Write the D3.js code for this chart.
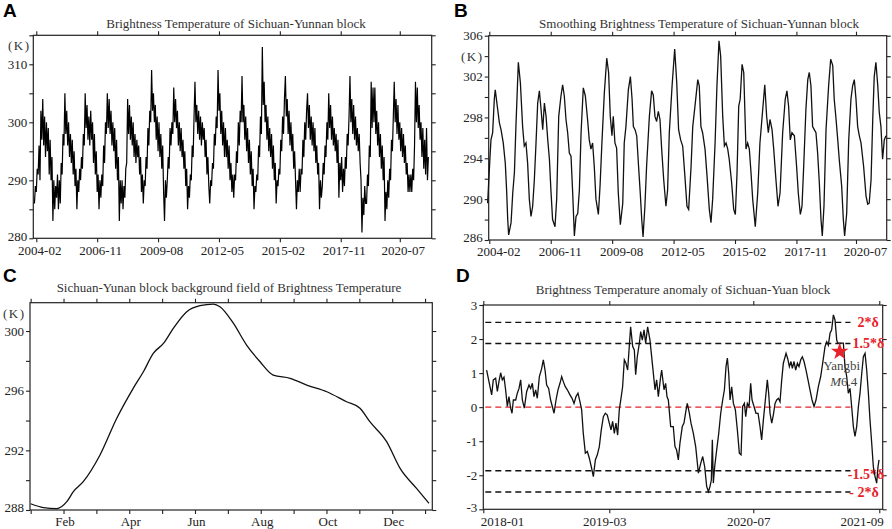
<!DOCTYPE html>
<html>
<head>
<meta charset="utf-8">
<title>Brightness Temperature of Sichuan-Yunnan block</title>
<script src="https://d3js.org/d3.v7.min.js"></script>
<style>
  body { margin: 0; background: #fff; }
  text { font-family: "Liberation Serif", "Times New Roman", serif; }
  .panel-label { font-family: "Liberation Sans", Arial, sans-serif; font-weight: bold; font-size: 19px; fill: #000; }
  .title { font-size: 13px; fill: #333; }
</style>
</head>
<body>
<div id="chart"></div>
<script>
// ---- tick labels ----
var dateTicks = ["2004-02", "2006-11", "2009-08", "2012-05", "2015-02", "2017-11", "2020-07"];
var monthNames = ["Jan", "Feb", "Mar", "Apr", "May", "Jun", "Jul", "Aug", "Sep", "Oct", "Nov", "Dec", "Jan"];
var anomalyTicks = ["2018-01", "2019-03", "2020-07", "2021-09"];
var rawYTicks = [280, 285, 290, 295, 300, 305, 310, 315];
var smoothYTicks = [286, 288, 290, 292, 294, 296, 298, 300, 302, 304, 306];
var bgYTicks = [288, 290, 292, 294, 296, 298, 300];
var anomYTicks = [-3, -2, -1, 0, 1, 2, 3];

// ---- A: daily brightness temperature (K), read at half-month steps from 2004-01 ----
var rawStep = 0.5;
var rawTemp = [
  286,289,288,292,291,296,290,302,297,304,296,301,294,300,295,299,291,297,290,294,283,290,285,289,
  287,291,285,290,286,293,291,298,296,305,298,302,296,300,294,298,293,297,291,295,289,292,285,290,
  288,292,290,294,292,298,296,305,299,303,297,301,296,302,297,300,293,298,291,295,288,291,285,290,
  287,291,289,296,293,300,298,305,299,304,298,302,296,300,295,299,292,297,290,294,283,290,286,290,
  285,289,287,292,293,304,298,303,297,301,296,300,294,298,293,297,294,296,291,294,288,291,286,290,
  289,294,292,299,296,302,300,309,302,305,300,303,297,301,295,300,294,298,292,296,288,283,290,287,
  290,294,292,299,296,300,298,306,300,304,299,302,296,300,295,299,294,297,292,295,289,292,285,289,
  287,291,290,296,294,301,307,300,303,298,302,297,301,296,300,297,299,294,297,291,294,289,286,290,
  289,293,292,298,296,301,299,309,302,305,298,302,296,300,294,299,294,297,292,296,290,293,288,291,
  287,291,290,295,293,300,296,302,300,308,300,303,297,301,295,299,293,297,291,295,289,292,285,289,
  288,291,290,296,294,301,298,313,303,307,300,303,297,301,295,299,294,298,292,296,290,293,286,290,
  289,292,291,297,295,301,298,304,308,301,304,298,302,296,300,295,298,292,295,290,285,290,288,292,
  288,292,291,297,294,300,297,302,305,299,303,297,301,296,300,295,299,293,296,291,293,285,290,287,
  289,293,291,296,294,300,297,305,299,303,297,301,296,299,295,298,293,297,287,293,290,294,288,292,
  289,294,292,298,296,301,308,300,304,298,303,297,301,296,299,295,298,293,290,281,287,284,289,286,
  286,291,289,296,294,307,299,306,300,306,298,302,296,300,294,298,292,296,290,294,283,288,285,290,
  287,292,290,297,295,301,307,300,304,298,303,297,300,295,299,294,298,293,296,291,293,288,291,288,
  291,288,292,290,296,307,300,306,299,303,297,300,294,299,292,297,291,299,290,294
];

// ---- B: smoothed brightness temperature (months since 2004-01, K) ----
var smoothMonth = [
  0.1,1.4,1.9,2.8,3.7,4.2,5.5,6.4,7.3,8.5,9.6,10.3,10.9,11.4,12.7,13.6,14.5,15.3,16.6,17.7,
  18.9,19.8,20.7,21.6,22.5,23.4,24.3,25.2,26.1,27.0,27.9,28.8,29.7,30.6,31.5,32.4,33.3,34.1,35.0,36.3,
  37.2,38.3,39.5,40.4,41.3,42.2,43.1,44.0,44.9,45.8,46.7,47.6,48.5,49.4,50.3,51.5,52.6,53.8,54.7,55.6,
  56.5,57.4,58.3,59.6,60.5,61.5,62.8,64.1,65.1,66.0,66.9,67.6,68.5,69.4,70.3,71.4,72.7,73.5,74.4,75.7,
  76.8,77.7,78.4,79.3,80.2,81.2,82.1,82.9,83.6,84.6,85.5,87.0,88.2,89.1,90.0,90.9,91.8,92.7,93.6,94.7,
  95.9,96.8,97.7,99.2,100.6,101.7,102.7,103.8,104.9,106.1,107.2,108.1,109.4,110.3,111.5,113.0,113.8,114.7,115.6,116.9,
  118.0,119.2,120.1,121.0,122.3,123.3,124.4,125.3,126.4,127.3,128.2,129.1,129.9,131.2,132.3,133.2,134.1,135.0,135.8,136.8,
  137.7,138.9,139.8,140.7,141.6,142.5,143.9,145.2,146.4,147.9,149.0,150.0,150.9,151.8,152.9,153.8,155.0,156.1,157.2,158.6,
  160.0,160.9,161.8,162.7,163.6,164.9,166.1,167.0,168.1,169.0,169.9,171.1,172.1,172.9,173.8,174.7,175.6,176.5,177.4,178.3,
  179.2,179.9,180.8,181.9,183.3,184.4,185.5,186.3,187.3,188.2,189.0,190.3,191.2,191.9,193.0,194.1,195.3,196.2,197.1,198.0,
  198.9,199.8,200.7,202.1,203.4,204.3,205.1,206.1,207.0,207.8,208.7,209.7,210.5,211.4,212.3,213.2,214.1
];
var smoothTemp = [
  289.6,294.2,295.8,296.5,299.8,300.7,298.8,297.5,296.8,295.5,293.5,290.9,288.0,286.5,287.7,290.6,292.6,297.1,303.4,301.4,
  297.1,295.2,295.5,293.5,290.0,288.3,289.3,291.9,295.5,299.4,300.6,298.8,296.8,299.4,298.1,295.8,293.9,290.9,288.0,287.3,
  290.0,298.1,300.1,301.2,300.1,297.8,296.5,294.5,294.2,290.6,286.4,288.3,288.6,290.9,296.5,300.9,300.1,297.8,295.8,294.9,
  295.5,293.2,290.0,288.5,291.3,295.5,300.4,303.8,302.4,298.1,296.2,298.1,295.5,295.0,290.6,287.5,289.6,295.5,297.1,300.7,
  302.0,299.8,297.1,296.8,296.2,293.2,290.6,288.0,286.3,289.3,293.2,298.1,300.6,300.2,298.1,297.6,298.6,297.8,294.9,291.9,
  289.3,290.9,296.5,301.1,304.7,301.4,296.8,295.8,295.2,292.2,289.3,289.0,293.2,297.1,299.1,301.7,301.1,297.1,296.5,294.9,
  292.2,289.0,287.7,290.0,295.5,301.1,305.5,304.0,298.1,295.2,295.5,294.9,293.9,291.6,289.0,288.5,292.6,299.1,299.8,303.2,
  302.4,294.9,295.5,294.9,292.6,290.0,287.3,290.6,295.5,298.8,301.2,298.1,296.5,297.8,296.8,294.9,291.9,289.3,290.6,296.5,
  299.8,300.6,299.1,295.8,296.5,296.2,293.2,290.6,288.5,289.3,293.2,298.8,301.7,302.4,301.1,297.1,296.8,296.5,294.5,291.6,
  288.0,286.4,289.3,296.8,301.1,303.7,303.1,299.8,297.8,295.8,293.9,291.3,288.0,286.4,288.6,295.8,299.8,301.1,301.7,299.8,
  297.1,296.2,295.5,293.2,290.3,289.5,289.6,291.9,297.8,302.0,303.4,301.1,298.5,297.1,293.9,295.8,296.2
];

// ---- C: background field (months since Jan 1, K) ----
var bgMonth = [0, 0.39, 0.79, 1.10, 1.30, 1.60, 2.11, 2.62, 3.12, 3.43, 3.73, 4.04, 4.34, 4.75, 5.15, 5.56,
  5.76, 6.17, 6.57, 6.98, 7.38, 7.89, 8.40, 9.01, 9.61, 10.02, 10.32, 10.83, 11.24, 11.74, 12.12];
var bgTemp = [288.42, 288.16, 288.09, 288.56, 289.23, 289.9, 291.69, 294.15, 296.16, 297.27, 298.5, 299.17, 300.18, 301.3, 301.7, 301.81,
  301.63, 300.51, 299.06, 297.94, 297.05, 296.83, 296.38, 295.93, 295.26, 294.82, 293.92, 292.58, 290.79, 289.45, 288.45];

// ---- D: anomaly (months since 2018-01) ----
var anomMonth = [
  0.37,0.67,0.93,1.11,1.37,1.56,1.74,1.93,2.11,2.30,2.48,2.67,2.85,3.04,3.19,3.34,3.60,3.78,3.97,4.15,
  4.34,4.56,4.82,5.08,5.26,5.45,5.63,5.82,6.00,6.23,6.49,6.67,6.86,7.04,7.26,7.48,7.67,7.86,8.08,8.30,
  8.52,8.71,8.89,9.11,9.34,9.63,9.86,10.08,10.30,10.52,10.74,10.93,11.11,11.34,11.56,11.78,12.00,12.23,12.45,12.67,
  12.89,13.11,13.34,13.56,13.78,14.00,14.19,14.37,14.56,14.74,14.93,15.11,15.30,15.48,15.67,15.85,16.04,16.37,16.60,16.78,
  16.93,17.11,17.34,17.49,17.67,17.86,18.04,18.26,18.52,18.82,19.08,19.26,19.45,19.71,19.82,20.08,20.26,20.41,20.56,20.82,
  21.11,21.30,21.48,21.67,21.85,22.11,22.30,22.53,22.67,22.90,23.08,23.34,23.60,23.90,24.16,24.38,24.60,24.82,25.01,25.19,
  25.34,25.45,25.56,25.71,25.93,26.16,26.38,26.60,26.79,26.97,27.12,27.27,27.42,27.60,27.79,28.01,28.23,28.45,28.64,28.82,
  29.01,29.16,29.34,29.53,29.71,29.86,30.08,30.30,30.53,30.75,30.93,31.12,31.34,31.56,31.71,31.86,32.05,32.23,32.42,32.60,
  32.79,32.97,33.16,33.34,33.64,33.82,34.01,34.19,34.34,34.53,34.71,34.90,35.08,35.27,35.45,35.64,35.86,36.08,36.30,36.53,
  36.75,36.97,37.23,37.49,37.71,37.97,38.16,38.34,38.53,38.71,38.90,39.08,39.27,39.38,39.56,39.82,40.01,40.19,40.38,40.56,
  40.75,40.93,41.12,41.30,41.49,41.68,41.86,42.05,42.23,42.42,42.60,42.79,42.97,43.16,43.34,43.53,43.71,43.86,43.97
];
var anomValue = [
  1.09,0.70,0.36,0.80,0.85,0.46,0.75,1.01,0.80,0.88,0.51,0.02,0.31,-0.03,-0.18,0.21,0.21,0.41,0.55,0.80,
  0.21,-0.03,0.46,0.65,0.55,0.70,0.31,0.51,0.26,0.90,1.14,1.39,1.09,0.65,0.55,0.21,0.02,-0.18,0.21,0.51,
  0.70,0.90,0.75,0.60,0.51,0.36,0.26,0.11,0.31,0.41,0.16,-0.08,-0.77,-1.35,-1.30,-1.50,-1.75,-2.04,-1.55,-1.40,
  -1.16,-0.67,-0.28,-0.18,-0.23,-0.47,-0.67,-0.42,-0.77,-0.47,-0.82,-0.08,0.26,0.60,1.39,1.29,1.09,2.36,1.78,1.68,
  0.95,1.48,1.88,2.22,1.97,2.27,1.88,2.36,1.97,1.19,0.51,0.80,0.31,0.90,1.09,0.51,0.70,0.31,0.21,-0.57,
  -0.57,-1.16,-1.26,-1.55,-1.06,-0.57,-0.47,-0.08,0.11,-0.18,-0.47,-0.77,-1.16,-1.94,-1.65,-1.45,-1.75,-2.33,-2.48,-2.33,
  -2.14,-0.96,-2.23,-1.75,-1.26,-0.77,-0.18,0.21,0.51,1.19,1.44,0.99,0.21,0.60,0.11,-0.08,-0.67,-1.35,-1.40,0.02,
  0.11,-0.28,0.11,0.02,0.70,0.21,0.02,-0.18,-0.18,-0.57,-0.96,-0.38,0.21,0.80,0.41,-0.18,-0.47,-0.23,0.11,0.21,
  0.26,0.16,0.80,1.29,1.58,1.43,1.19,1.34,1.14,1.34,1.09,1.29,1.19,1.39,1.48,1.34,1.09,0.80,0.51,0.21,
  0.02,0.21,0.60,0.90,1.29,1.78,1.92,1.82,2.17,2.27,2.71,2.56,1.97,1.88,1.88,1.88,1.88,1.19,0.90,0.41,
  0.55,0.02,-0.57,-0.86,-0.57,0.02,0.41,0.99,1.48,1.58,1.09,0.41,-0.38,-1.06,-1.75,-2.04,-2.23,-1.75,-1.55
];
var sigma = 1.245;
var sigmaFactors = [2, 1.5, 0, -1.5, -2];
var sigmaLabels = ["2*δ", "1.5*δ", "", "-1.5*δ", "- 2*δ"];
var quakeMonth = 39.6, quakeValue = 1.63;
var quakeName = "Yangbi", quakeMag = "6.4";

// month index of a "YYYY-MM" label counted from January of baseYear
function monthIndex(label, baseYear) {
  var p = label.split("-");
  return (+p[0] - baseYear) * 12 + (+p[1] - 1);
}

var svg = d3.select("#chart").append("svg")
  .attr("width", 892).attr("height", 529);

var RED = "#e8222a";

function styleAxis(g) {
  g.select(".domain").remove();
  g.attr("font-family", null).attr("font-size", null);
  g.selectAll(".tick line").attr("stroke", "#222").attr("stroke-width", 1.1);
  g.selectAll(".tick text").attr("fill", "#222").style("font-size", "13px");
}

// draws frame + four axes, returns scales and the axis groups
function panel(box, xDomain, yDomain, xTickVals, xFmt, yTickVals, yFmt, labelShift) {
  var x = d3.scaleLinear().domain(xDomain).range([box.x0, box.x1]);
  var y = d3.scaleLinear().domain(yDomain).range([box.y1, box.y0]);

  var bottom = svg.append("g").attr("transform", "translate(0," + box.y1 + ")")
    .call(d3.axisBottom(x).tickValues(xTickVals).tickSize(4).tickSizeOuter(0).tickPadding(3).tickFormat(xFmt))
    .call(styleAxis);
  bottom.selectAll(".tick text").attr("x", labelShift || 0);
  svg.append("g").attr("transform", "translate(0," + box.y0 + ")")
    .call(d3.axisTop(x).tickValues(xTickVals).tickSize(4).tickSizeOuter(0).tickFormat(""))
    .call(styleAxis);
  var left = svg.append("g").attr("transform", "translate(" + box.x0 + ",0)")
    .call(d3.axisLeft(y).tickValues(yTickVals).tickSize(4).tickSizeOuter(0).tickPadding(2).tickFormat(yFmt))
    .call(styleAxis);
  svg.append("g").attr("transform", "translate(" + box.x1 + ",0)")
    .call(d3.axisRight(y).tickValues(yTickVals).tickSize(4).tickSizeOuter(0).tickFormat(""))
    .call(styleAxis);

  // lift the lowest y label a touch so it clears the first date label
  left.selectAll(".tick text").filter(function(d) { return d === yDomain[0]; }).attr("dy", "0.15em");

  svg.append("rect")
    .attr("x", box.x0).attr("y", box.y0)
    .attr("width", box.x1 - box.x0).attr("height", box.y1 - box.y0)
    .attr("fill", "none").attr("stroke", "#222").attr("stroke-width", 1.2);
  return { x: x, y: y, bottom: bottom };
}

function addText(x, y, txt, cls, anchor) {
  return svg.append("text").attr("x", x).attr("y", y)
    .attr("class", cls || null)
    .attr("text-anchor", anchor || "start").text(txt);
}

// ================= A =================
var boxA = { x0: 33.3, x1: 431.7, y0: 35.3, y1: 238.3 };
var dateVals = dateTicks.map(function(d) { return monthIndex(d, 2004); });
var sA = panel(boxA, [-0.62, 215.3], [280, 315], dateVals, function(d, i) { return dateTicks[i]; },
  rawYTicks, function(d) { return d % 10 === 0 && d < 315 ? d : ""; }, 3);
svg.append("path")
  .datum(rawTemp)
  .attr("fill", "none").attr("stroke", "#000").attr("stroke-width", 1.2)
  .attr("d", d3.line().x(function(d, i) { return sA.x(i * rawStep); }).y(function(d) { return sA.y(d); }));
addText(3, 17, "A", "panel-label");
addText(236, 28, "Brightness Temperature of Sichuan-Yunnan block", "title", "middle");
addText(8, 50, "(K)").style("font-size", "13px").style("letter-spacing", "1.5px").attr("fill", "#333");

// ================= B =================
var boxB = { x0: 488.7, x1: 886.7, y0: 35.7, y1: 240 };
var sB = panel(boxB, [0.68, 214.5], [286, 306], dateVals, function(d, i) { return dateTicks[i]; },
  smoothYTicks, function(d) { return (d - 286) % 4 === 0 ? d : ""; }, 9);
svg.append("path")
  .datum(d3.zip(smoothMonth, smoothTemp))
  .attr("fill", "none").attr("stroke", "#111").attr("stroke-width", 1.3)
  .attr("d", d3.line().x(function(d) { return sB.x(d[0]); }).y(function(d) { return sB.y(d[1]); }));
addText(454, 17, "B", "panel-label");
addText(699, 28, "Smoothing Brightness Temperature of Sichuan-Yunnan block", "title", "middle");
addText(461, sB.y(304) + 4.5, "(K)").style("font-size", "13px").style("letter-spacing", "1.5px").attr("fill", "#333");

// ================= C =================
var boxC = { x0: 30, x1: 432.3, y0: 302.7, y1: 510 };
var sC = panel(boxC, [-0.02, 12.22], [288, 301.9], d3.range(monthNames.length),
  function(d) { return d % 2 === 1 ? monthNames[d] : ""; },
  bgYTicks, function(d) { return (d - 288) % 4 === 0 ? d : ""; }, 1);
svg.append("path")
  .datum(d3.zip(bgMonth, bgTemp))
  .attr("fill", "none").attr("stroke", "#111").attr("stroke-width", 1.3)
  .attr("d", d3.line().curve(d3.curveMonotoneX).x(function(d) { return sC.x(d[0]); }).y(function(d) { return sC.y(d[1]); }));
addText(3, 282, "C", "panel-label");
addText(229, 292, "Sichuan-Yunan block background field of Brightness Temperature", "title", "middle");
addText(3, 318, "(K)").style("font-size", "13px").style("letter-spacing", "1.5px").attr("fill", "#333");

// ================= D =================
var boxD = { x0: 483.3, x1: 882.7, y0: 305, y1: 509.3 };
var anomVals = anomalyTicks.map(function(d) { return monthIndex(d, 2018); });
var sD = panel(boxD, [0, 44.38], [-3, 3], anomVals, function(d, i) { return anomalyTicks[i]; },
  anomYTicks, function(d) { return d; }, 0);
// keep the edge labels inside like the original
sD.bottom.selectAll(".tick text")
  .attr("text-anchor", function(d, i) { return i === 0 ? "start" : (i === anomalyTicks.length - 1 ? "end" : "middle"); })
  .attr("x", function(d, i) { return i === 0 ? -3 : (i === anomalyTicks.length - 1 ? 4 : -5); });

sigmaFactors.forEach(function(f, i) {
  var yv = sD.y(f * sigma);
  svg.append("line")
    .attr("x1", boxD.x0 + 2).attr("x2", sD.x(40.8))
    .attr("y1", yv).attr("y2", yv)
    .attr("stroke", f === 0 ? RED : "#111").attr("stroke-width", 1.4)
    .attr("stroke-dasharray", "6,4");
  if (sigmaLabels[i]) {
    svg.append("text")
      .attr("x", boxD.x1 + (f === 2 || f === -2 ? -4 : 1.5)).attr("y", yv + (f < 0 && f > -2 ? 3 : 0))
      .attr("dy", "0.35em").attr("text-anchor", "end")
      .attr("fill", RED).style("font-weight", "bold").style("font-size", "14px")
      .text(sigmaLabels[i]);
  }
});

svg.append("path")
  .datum(d3.zip(anomMonth, anomValue))
  .attr("fill", "none").attr("stroke", "#111").attr("stroke-width", 1.3)
  .attr("d", d3.line().x(function(d) { return sD.x(d[0]); }).y(function(d) { return sD.y(d[1]); }));

svg.append("path")
  .attr("d", d3.symbol().type(d3.symbolStar).size(95)())
  .attr("transform", "translate(" + sD.x(quakeMonth) + "," + sD.y(quakeValue) + ")")
  .attr("fill", RED);
addText(sD.x(quakeMonth) + 2, sD.y(quakeValue) + 18, quakeName, null, "middle")
  .style("font-size", "13px").attr("fill", "#444");
var mag = addText(sD.x(quakeMonth) + 4, sD.y(quakeValue) + 34, "", null, "middle")
  .style("font-size", "13px").attr("fill", "#444");
mag.append("tspan").style("font-style", "italic").text("M");
mag.append("tspan").text(quakeMag);

addText(456, 282, "D", "panel-label");
addText(683, 294, "Brightness Temperature anomaly of Sichuan-Yuan block", "title", "middle");
</script>
</body>
</html>
